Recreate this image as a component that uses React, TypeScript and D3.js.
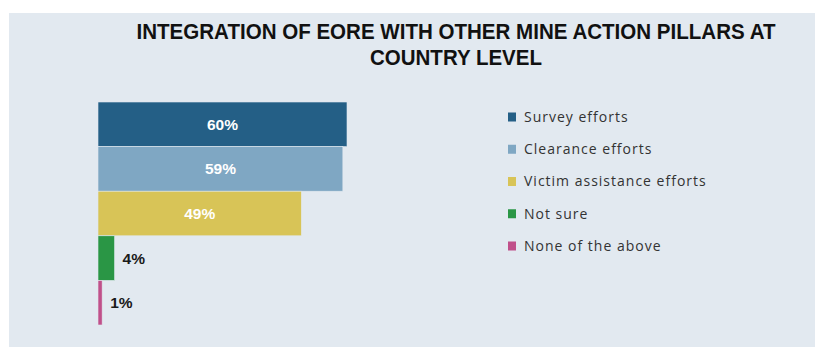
import React from "react";
import * as d3 from "d3";

const categories = ["Survey efforts", "Clearance efforts", "Victim assistance efforts", "Not sure", "None of the above"];
const values = [60, 59, 49, 4, 1];
const colors = ["#245f86", "#7fa7c3", "#d8c457", "#2a9645", "#c0508a"];
const titleLines = ["INTEGRATION OF EORE WITH OTHER MINE ACTION PILLARS AT", "COUNTRY LEVEL"];

export default function App() {
  const W = 816, H = 347;
  const x = d3.scaleLinear().domain([0, 60]).range([98, 347]);
  const y = d3.scaleBand<string>().domain(categories).range([102, 325]).padding(0);
  const legendY = d3.scalePoint<string>().domain(categories).range([117, 246]);
  return (
    <svg width={W} height={H} style={{ position: "absolute", left: 0, top: 0 }}>
      <rect x={9} y={13} width={806} height={H - 13} fill="#e2e9f0" />
      <text x={456} y={38.5} textAnchor="middle" fontFamily="Liberation Sans, Arial, sans-serif" fontWeight="bold" fontSize={21.5} fill="#111" textLength={639} lengthAdjust="spacingAndGlyphs">{titleLines[0]}</text>
      <text x={456} y={64.5} textAnchor="middle" fontFamily="Liberation Sans, Arial, sans-serif" fontWeight="bold" fontSize={21.5} fill="#111" textLength={172} lengthAdjust="spacingAndGlyphs">{titleLines[1]}</text>
      {categories.map((c, i) => {
        const v = values[i];
        const bx = x(0), bw = x(v) - x(0);
        const by = y(c)!, bh = y.bandwidth();
        const inside = bw > 60;
        return (
          <g key={c}>
            <rect x={bx} y={by} width={bw} height={bh} fill={colors[i]} stroke="#e2e9f0" strokeWidth={0.6} />
            <text
              x={inside ? bx + bw / 2 : bx + bw + 8}
              y={by + bh / 2}
              dy="0.35em"
              textAnchor={inside ? "middle" : "start"}
              fontFamily="Liberation Sans, Arial, sans-serif"
              fontWeight="bold"
              fontSize={15.5}
              fill={inside ? "#ffffff" : "#1a1a1a"}
            >{v}%</text>
          </g>
        );
      })}
      {categories.map((c, i) => (
        <g key={"l" + c}>
          <rect x={508} y={legendY(c)! - 4.5} width={8} height={9} fill={colors[i]} />
          <text x={524} y={legendY(c)!} dy="0.35em" fontFamily="Open Sans, sans-serif" fontSize={14} letterSpacing={1} fill="#333">{c}</text>
        </g>
      ))}
    </svg>
  );
}
